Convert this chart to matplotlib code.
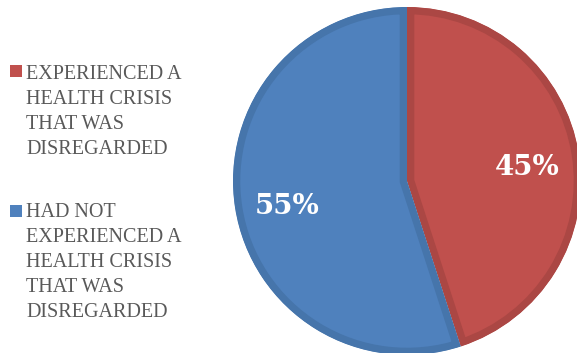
import matplotlib
matplotlib.use('Agg')
import matplotlib.pyplot as plt
from matplotlib.patches import Rectangle

graphWidth = 577  # units are pixels
graphHeight = 353  # units are pixels

labels = ['EXPERIENCED A\nHEALTH CRISIS\nTHAT WAS\nDISREGARDED',
          'HAD NOT\nEXPERIENCED A\nHEALTH CRISIS\nTHAT WAS\nDISREGARDED']
shares = [45, 55]
colors = ['#C0504D', '#4F81BD']
edge_colors = ['#AB4744', '#4675AB']


def main():
    f = plt.figure(figsize=(graphWidth/100.0, graphHeight/100.0), dpi=100)
    ax = f.add_axes([0, 0, 1, 1])

    # pie in pixel coordinates (y up)
    wedges, texts, autotexts = ax.pie(
        shares, colors=colors, startangle=90, counterclock=False,
        center=(407, graphHeight - 181), radius=174,
        autopct='%1.0f%%', pctdistance=0.7,
        textprops=dict(color='white', fontsize=20, fontweight='bold',
                       family='DejaVu Serif'))

    ax.set_xlim(0, graphWidth)
    ax.set_ylim(0, graphHeight)
    ax.set_aspect('equal')
    ax.axis('off')

    # darker inner rim: stroke the wedge outline, keep only the inside half
    for w, ec in zip(wedges, edge_colors):
        w.set_edgecolor(ec)
        w.set_linewidth(10.5)
        w.set_clip_on(True)
        w.set_clip_path(w.get_path(), w.get_transform())

    # nudge the percentages down a little, like the original
    for t in autotexts:
        x, y = t.get_position()
        t.set_position((x, y - 6))

    # legend drawn by hand so the marker sits by the first line
    marker_tops = [65, 205]
    text_tops = [65, 203]
    for mt, tt, lab, col in zip(marker_tops, text_tops, labels, colors):
        ax.add_patch(Rectangle((10, graphHeight - mt - 12), 12, 12,
                               facecolor=col, edgecolor='none'))
        ax.text(26, graphHeight - tt, lab, ha='left', va='top',
                fontsize=14.5, color='#595959', family='Liberation Serif',
                linespacing=1.43)

    f.savefig('out.png', dpi=100)
    plt.close('all')


if __name__ == '__main__':
    main()
